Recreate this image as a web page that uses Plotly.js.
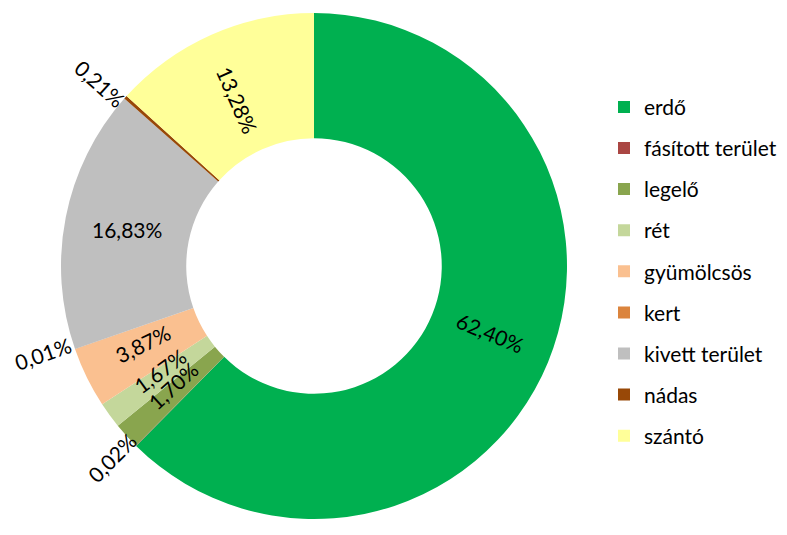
<!DOCTYPE html>
<html>
<head>
<meta charset="utf-8">
<script src="https://cdn.plot.ly/plotly-3.0.1.min.js"></script>
<style>html,body{margin:0;padding:0;background:#fff;}#chart{width:787px;height:535px;}</style>
</head>
<body>
<div id="chart"></div>
<script>
var categories = ["erdő", "fásított terület", "legelő", "rét", "gyümölcsös", "kert", "kivett terület", "nádas", "szántó"];
var values = [62.40, 0.02, 1.70, 1.67, 3.87, 0.01, 16.83, 0.21, 13.28];
var valueLabels = ["62,40%", "0,02%", "1,70%", "1,67%", "3,87%", "0,01%", "16,83%", "0,21%", "13,28%"];
var colors = ["#00B050", "#AA4643", "#89A54E", "#C4D79B", "#FAC090", "#DB843D", "#BFBFBF", "#984807", "#FFFF99"];

var smallThreshold = 0.5;   // slices below this get their label outside
var W = 787, H = 535, R = 253, CX = 314, CY = 266, HOLE = 0.505;
var FONT = "Lato, 'Open Sans', sans-serif";
var FS = 21;

var pie = {
  type: "pie",
  labels: categories,
  values: values,
  textinfo: "none",
  sort: false,
  direction: "clockwise",
  rotation: 0,
  hole: HOLE,
  marker: {colors: colors, line: {width: 0}},
  showlegend: false,
  hoverinfo: "label+percent",
  domain: {x: [(CX - R) / W, (CX + R) / W], y: [0, 1]}
};

var traces = [pie];
categories.forEach(function(c, i){
  traces.push({
    type: "scatter", mode: "markers", x: [null], y: [null],
    name: c, legendgroup: "g" + i,
    marker: {symbol: "square", size: 12, color: colors[i]},
    hoverinfo: "skip", showlegend: true
  });
});

// data labels, placed from the cumulative share of each slice
var total = values.reduce(function(a, b){ return a + b; }, 0);
var annotations = [];
var cum = 0;
values.forEach(function(v, i){
  var mid = (cum + v / 2) / total;
  cum += v;
  var ang = mid * 2 * Math.PI;
  var dx = Math.sin(ang), dy = -Math.cos(ang);
  var outside = v < smallThreshold;
  var r = outside ? R * 1.135 : R * (1 + HOLE) / 2;
  var px = CX + r * dx, py = CY + r * dy;
  var rx = dx > 0 ? dx : -dx, ry = dx > 0 ? dy : -dy;
  var angle = Math.atan2(ry, rx) * 180 / Math.PI;
  if (!outside && Math.abs(angle) < 12) angle = 0;
  annotations.push({
    xref: "paper", yref: "paper", x: px / W, y: 1 - py / H,
    xanchor: "center", yanchor: "middle", showarrow: false,
    text: valueLabels[i], textangle: angle,
    font: {family: FONT, size: FS, color: "#000"}
  });
});

var layout = {
  width: W, height: H,
  margin: {l: 0, r: 0, t: 13, b: 16},
  paper_bgcolor: "#fff", plot_bgcolor: "#fff",
  xaxis: {visible: false, domain: [0.99, 1]},
  yaxis: {visible: false, domain: [0.99, 1]},
  showlegend: true,
  legend: {
    x: 604 / W, xanchor: "left", y: 1 - 78 / H, yanchor: "top",
    font: {family: FONT, size: FS, color: "#000"},
    tracegroupgap: 10.8, itemwidth: 30, bgcolor: "rgba(0,0,0,0)"
  },
  annotations: annotations
};

Plotly.newPlot("chart", traces, layout, {displayModeBar: false, staticPlot: true});
</script>
</body>
</html>
